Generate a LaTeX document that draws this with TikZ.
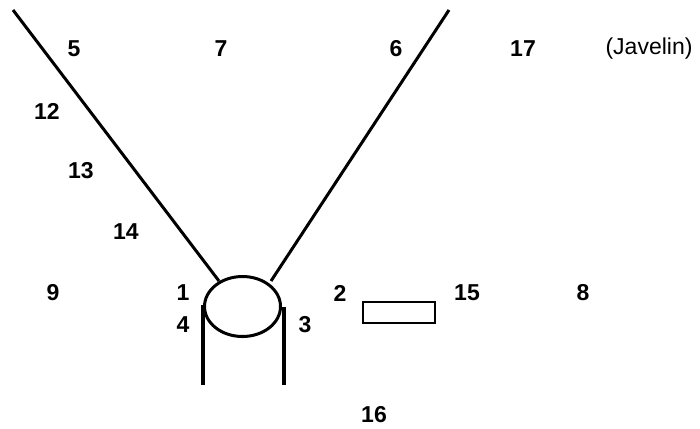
\documentclass[tikz,border=0pt]{standalone}
\usepackage{fontspec}
\setmainfont{Liberation Sans}
\tikzset{num/.style={font=\fontsize{23bp}{26bp}\selectfont\bfseries,inner sep=0pt},
lbl/.style={font=\fontsize{23bp}{26bp}\selectfont,inner sep=0pt},
ln/.style={line width=3bp,line cap=butt}}
\begin{document}
\begin{tikzpicture}[x=1bp,y=-1bp]
\useasboundingbox (0,0) rectangle (700,428);
\node[num] (n5) at (74,49) {5};
\node[num] (n7) at (221,49) {7};
\node[num] (n6) at (396,49) {6};
\node[num] (n17) at (523,49) {17};
\node[lbl] (jav) at (649,49) {(Javelin)};
\node[num] (n12) at (47,111) {12};
\node[num] (n13) at (81,171) {13};
\node[num] (n14) at (126,232) {14};
\node[num] (n9) at (53,293) {9};
\node[num] (n1) at (183,293) {1};
\node[num] (n4) at (183,325) {4};
\node[num] (n2) at (340,293) {2};
\node[num] (n3) at (305,325) {3};
\node[num] (n15) at (467,293) {15};
\node[num] (n8) at (583,293) {8};
\node[num] (n16) at (374,415) {16};
\draw[ln] (242.5,306.5) ellipse (38 and 30);
\coordinate (l1) at (13,10); \coordinate (l2) at (219,281);
\coordinate (r1) at (449,10); \coordinate (r2) at (271,281);
\draw[ln] (l1) -- (l2);
\draw[ln] (r1) -- (r2);
\coordinate (a1) at (203,305); \coordinate (a2) at (203,385);
\coordinate (b1) at (284,307); \coordinate (b2) at (284,385);
\draw[line width=4bp] (a1) -- (a2);
\draw[line width=4bp] (b1) -- (b2);
\node[draw,line width=1.6bp,minimum width=72bp,minimum height=21bp,inner sep=0pt] (box) at (398.7,312.3) {};
\end{tikzpicture}
\end{document}
